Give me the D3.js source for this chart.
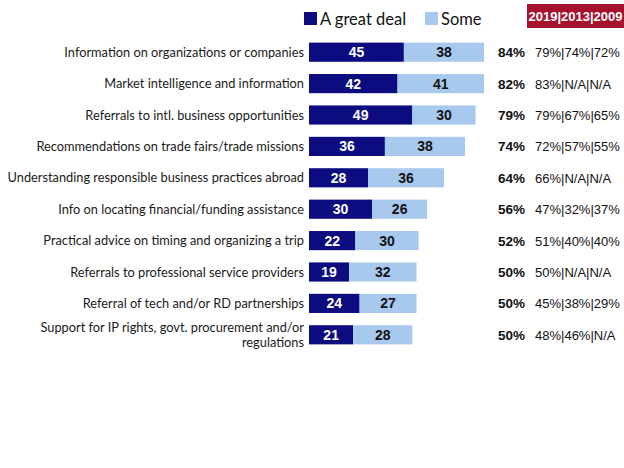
<!DOCTYPE html>
<html>
<head>
<meta charset="utf-8">
<script src="https://cdn.jsdelivr.net/npm/d3@7"></script>
<style>
  html, body { margin: 0; padding: 0; background: #fff; }
  svg { display: block; }
</style>
</head>
<body>
<svg id="chart" width="624" height="468"></svg>
<script>
const categories = [
  "Information on organizations or companies",
  "Market intelligence and information",
  "Referrals to intl. business opportunities",
  "Recommendations on trade fairs/trade missions",
  "Understanding responsible business practices abroad",
  "Info on locating financial/funding assistance",
  "Practical advice on timing and organizing a trip",
  "Referrals to professional service providers",
  "Referral of tech and/or RD partnerships",
  "Support for IP rights, govt. procurement and/or|regulations"
];
const greatDeal = [45, 42, 49, 36, 28, 30, 22, 19, 24, 21];
const some = [38, 41, 30, 38, 36, 26, 30, 32, 27, 28];
const totals = ["84%", "82%", "79%", "74%", "64%", "56%", "52%", "50%", "50%", "50%"];
const history = ["79%|74%|72%", "83%|N/A|N/A", "79%|67%|65%", "72%|57%|55%", "66%|N/A|N/A",
                 "47%|32%|37%", "51%|40%|40%", "50%|N/A|N/A", "45%|38%|29%", "48%|46%|N/A"];
const seriesNames = ["A great deal", "Some"];
const historyHeader = "2019|2013|2009";

const colors = { dark: "#0C0C80", light: "#A8C9EE", header: "#A6122E" };

const svg = d3.select("#chart");
const x0 = 309;
const x = d3.scaleLinear().domain([0, 83]).range([x0, x0 + 175]);
const y = d3.scaleBand().domain(d3.range(categories.length)).range([36.5, 350.5]).paddingInner(0.39).paddingOuter(0.195);

const labelFont = "Lato, 'Open Sans', sans-serif";
const numFont = "'Liberation Sans', Arial, sans-serif";

// Category labels
categories.forEach((c, i) => {
  const lines = c.split("|");
  const cy = y(i) + y.bandwidth() / 2;
  const t = svg.append("text")
    .attr("x", 304)
    .attr("text-anchor", "end")
    .attr("font-family", labelFont)
    .attr("font-size", 12.8)
    .attr("fill", "#1a1a1a");
  const lh = 15;
  lines.forEach((l, j) => {
    t.append("tspan")
      .attr("x", 304)
      .attr("y", cy + 4.5 + (j - (lines.length - 1) / 2) * lh)
      .text(l);
  });
});

// Bars
const rows = svg.append("g").selectAll("g").data(categories).join("g");
rows.append("rect")
  .attr("x", x(0))
  .attr("y", (d, i) => y(i))
  .attr("width", (d, i) => x(greatDeal[i]) - x(0))
  .attr("height", y.bandwidth())
  .attr("fill", colors.dark);
rows.append("rect")
  .attr("x", (d, i) => x(greatDeal[i]))
  .attr("y", (d, i) => y(i))
  .attr("width", (d, i) => x(greatDeal[i] + some[i]) - x(greatDeal[i]))
  .attr("height", y.bandwidth())
  .attr("fill", colors.light);
rows.append("text")
  .attr("x", (d, i) => (x(0) + x(greatDeal[i])) / 2)
  .attr("y", (d, i) => y(i) + y.bandwidth() / 2 + 5)
  .attr("text-anchor", "middle")
  .attr("font-family", numFont)
  .attr("font-weight", "bold")
  .attr("font-size", 14)
  .attr("fill", "#fff")
  .text((d, i) => greatDeal[i]);
rows.append("text")
  .attr("x", (d, i) => (x(greatDeal[i]) + x(greatDeal[i] + some[i])) / 2)
  .attr("y", (d, i) => y(i) + y.bandwidth() / 2 + 5)
  .attr("text-anchor", "middle")
  .attr("font-family", numFont)
  .attr("font-weight", "bold")
  .attr("font-size", 14)
  .attr("fill", "#111")
  .text((d, i) => some[i]);
rows.append("text")
  .attr("x", 498)
  .attr("y", (d, i) => y(i) + y.bandwidth() / 2 + 5)
  .attr("font-family", numFont)
  .attr("font-weight", "bold")
  .attr("font-size", 13.5)
  .attr("fill", "#111")
  .text((d, i) => totals[i]);
rows.append("text")
  .attr("x", 535)
  .attr("y", (d, i) => y(i) + y.bandwidth() / 2 + 5)
  .attr("font-family", numFont)
  .attr("font-size", 13)
  .attr("fill", "#111")
  .text((d, i) => history[i]);

// Legend
const legend = [
  { name: seriesNames[0], color: colors.dark, x: 304 },
  { name: seriesNames[1], color: colors.light, x: 425 }
];
legend.forEach(l => {
  svg.append("rect").attr("x", l.x).attr("y", 12).attr("width", 13).attr("height", 13).attr("fill", l.color);
  svg.append("text").attr("x", l.x + 16).attr("y", 25)
    .attr("font-family", labelFont).attr("font-size", 16.5).attr("fill", "#111").text(l.name);
});

// History header
svg.append("rect").attr("x", 527).attr("y", 4).attr("width", 97).attr("height", 24).attr("fill", colors.header);
svg.append("text").attr("x", 575.5).attr("y", 21).attr("text-anchor", "middle")
  .attr("font-family", numFont).attr("font-weight", "bold").attr("font-size", 13)
  .attr("fill", "#fff").text(historyHeader);
</script>
</body>
</html>
